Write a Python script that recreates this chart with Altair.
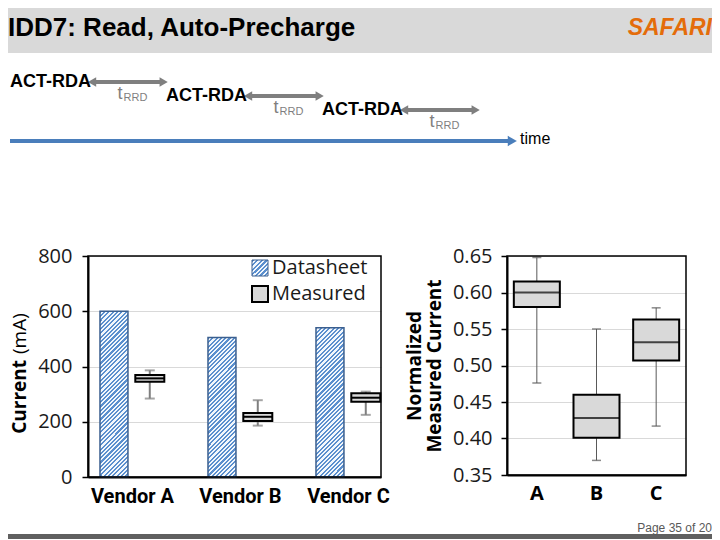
import altair as alt
import pandas as pd

# ---------------- text / header data ----------------
title_text = "IDD7: Read, Auto-Precharge"
logo_text = "SAFARI"
cmd_labels = ["ACT-RDA", "ACT-RDA", "ACT-RDA"]
cmd_slot = [0, 1, 2]
timing_main = ["t", "t", "t"]
timing_sub = ["RRD", "RRD", "RRD"]
time_label = ["time"]
page_label = ["Page 35 of 20"]

# ---------------- left panel data ----------------
vendors = ["Vendor A", "Vendor B", "Vendor C"]
datasheet_ma = [600, 505, 540]
meas_lo = [284, 186, 225]
meas_q1 = [345, 203, 272]
meas_med = [357, 218, 287]
meas_q3 = [369, 232, 303]
meas_hi = [386, 278, 309]
legend_labels = ["Datasheet", "Measured"]
left_title = ["Current", "(mA)"]
left_ticks = [0, 200, 400, 600, 800]

# ---------------- right panel data ----------------
groups = ["A", "B", "C"]
norm_lo = [0.476, 0.370, 0.417]
norm_q1 = [0.580, 0.401, 0.507]
norm_med = [0.600, 0.428, 0.532]
norm_q3 = [0.615, 0.460, 0.563]
norm_hi = [0.648, 0.550, 0.579]
right_ticks = [0.35, 0.40, 0.45, 0.50, 0.55, 0.60, 0.65]

FONT = "Open Sans"
ARIAL = "Liberation Sans"


def hatch(w, h, period=4.3, c1="#5b8fce", c2="#f2f7fc"):
    r = h / w
    k = (1 + r) / (1 + r * r)
    n = max(1, round((w + h) / period))
    stops = []
    for i in range(n):
        a, b, c = i / n, (i + 0.5) / n, (i + 1) / n
        stops += [(a, c1), (b, c1), (b, c2), (c, c2)]
    return alt.LinearGradient(
        gradient="linear",
        stops=[alt.GradientStop(offset=o, color=col) for o, col in stops],
        x1=0, y1=0, x2=k, y2=k * r,
    )


def frame(w, h):
    d = pd.DataFrame({"f": [1]})
    return alt.Chart(d).mark_rect(fillOpacity=0, stroke="black", strokeWidth=1.5).encode(
        x=alt.value(0), x2=alt.value(w), y=alt.value(0), y2=alt.value(h))


# The header / footer views are aligned with the left plot's origin (page x 88),
# so their content starts OFF pixels to the left of their own origin.
OFF = 80
W = 704 - OFF
HH = 238

# ================= header =================
hdr = pd.DataFrame({"label": cmd_labels, "slot": cmd_slot,
                    "t": timing_main, "sub": timing_sub})
one = pd.DataFrame({"title": [title_text], "logo": [logo_text],
                    "time": time_label})

hx = alt.Scale(domain=[0.5, 4.5], nice=False, zero=False)
hy = alt.Scale(domain=[-5.2857, 11.714], nice=False, zero=False, reverse=True)


def HX(f):
    return alt.X(f, scale=hx, axis=None)


def HY(f):
    return alt.Y(f, scale=hy, axis=None)


hbase = alt.Chart(hdr).transform_calculate(
    a0="datum.slot + 0.526", a1="datum.slot + 0.985",
    tx="datum.slot + 0.705", ty="datum.slot + 0.85",
    sx="datum.slot + 0.728", sy="datum.slot + 1.12",
)

bbox_h = alt.Chart(one).mark_rect(opacity=0).encode(
    x=alt.value(-OFF), x2=alt.value(W), y=alt.value(0), y2=alt.value(HH))
bar_h = alt.Chart(one).mark_rect(color="#d9d9d9").encode(
    x=alt.value(-OFF), x2=alt.value(W), y=alt.value(0), y2=alt.value(45))
title_h = alt.Chart(one).mark_text(
    align="left", baseline="alphabetic", font=ARIAL, fontSize=26,
    fontWeight="bold", color="black").encode(
    x=alt.value(-OFF), y=alt.value(28), text="title:N")
logo_h = alt.Chart(one).mark_text(
    align="right", baseline="alphabetic", font=ARIAL, fontSize=23,
    fontWeight="bold", fontStyle="italic", color="#e46c0a").encode(
    x=alt.value(W), y=alt.value(27), text="logo:N")

cmd_txt = hbase.mark_text(align="left", baseline="middle", font=ARIAL,
                          fontSize=18, fontWeight="bold", color="black").encode(
    x=HX("slot:Q"), y=HY("slot:Q"), text="label:N")
arr_line = hbase.mark_rule(color="#7f7f7f", strokeWidth=4).encode(
    x=HX("a0:Q"), x2="a1:Q", y=HY("slot:Q"))
arr_l = hbase.mark_point(shape="triangle-left", filled=True, size=90,
                         color="#7f7f7f", opacity=1).encode(x=HX("a0:Q"), y=HY("slot:Q"))
arr_r = hbase.mark_point(shape="triangle-right", filled=True, size=90,
                         color="#7f7f7f", opacity=1).encode(x=HX("a1:Q"), y=HY("slot:Q"))
t_txt = hbase.mark_text(align="center", baseline="middle", font=ARIAL,
                        fontSize=18, color="#7f7f7f").encode(
    x=HX("tx:Q"), y=HY("ty:Q"), text="t:N")
sub_txt = hbase.mark_text(align="left", baseline="middle", font=ARIAL,
                          fontSize=11, color="#7f7f7f").encode(
    x=HX("sx:Q"), y=HY("sy:Q"), text="sub:N")

tbase = alt.Chart(one).transform_calculate(t0="0", t1="3.22", lvl="4.214", tl="3.27")
time_line = tbase.mark_rule(color="#4a7ebb", strokeWidth=4).encode(
    x=HX("t0:Q"), x2="t1:Q", y=HY("lvl:Q"))
time_head = tbase.mark_point(shape="triangle-right", filled=True, size=110,
                             color="#4a7ebb", opacity=1).encode(
    x=HX("t1:Q"), y=HY("lvl:Q"))
time_txt = tbase.mark_text(align="left", baseline="middle", font=ARIAL,
                           fontSize=16, color="black", dy=-2).encode(
    x=HX("tl:Q"), y=HY("lvl:Q"), text="time:N")

header = alt.layer(bbox_h, bar_h, title_h, logo_h, time_line, time_head, time_txt,
                   arr_line, arr_l, arr_r, cmd_txt, t_txt, sub_txt).properties(
    width=W, height=HH)

# ================= left panel =================
LW, LH = 293, 221
left_df = pd.DataFrame({"vendor": vendors, "idx": [0, 1, 2], "ds": datasheet_ma,
                        "lo": meas_lo, "q1": meas_q1, "med": meas_med,
                        "q3": meas_q3, "hi": meas_hi})
lx = alt.Scale(domain=[-0.407, 2.306], nice=False, zero=False)
ly = alt.Scale(domain=[0, 800], nice=False)
lab_expr = "[" + ",".join("'%s'" % v for v in vendors) + "][datum.value]"
lx_axis = alt.Axis(values=[0, 1, 2], labelExpr=lab_expr, title=None, ticks=False,
                   grid=False, domainColor="black", domainWidth=2,
                   labelFont="Roboto", labelFontWeight="bold", labelFontSize=20,
                   labelColor="black", labelPadding=9)
ly_axis = alt.Axis(values=left_ticks, title=None, grid=True,
                   gridColor="#d9d9d9", gridWidth=1, tickColor="black",
                   tickSize=6, tickWidth=1.5, domainColor="black", domainWidth=2,
                   labelFont=FONT, labelFontSize=20, labelColor="#1a1a1a",
                   labelPadding=10)


def LX(f):
    return alt.X(f, scale=lx, axis=lx_axis)


def LY(f):
    return alt.Y(f, scale=ly, axis=ly_axis)


lbase = alt.Chart(left_df).transform_calculate(
    b0="datum.idx - 0.296", b1="datum.idx - 0.037", c="datum.idx + 0.165",
    m0="datum.idx + 0.031", m1="datum.idx + 0.2995", z="0")

left_layers = []
for i, v in enumerate(vendors):
    h = datasheet_ma[i] / 800 * LH
    left_layers.append(
        lbase.transform_filter(alt.datum.vendor == v)
        .mark_rect(fill=hatch(28, h), stroke="#3b5f8f", strokeWidth=1.5)
        .encode(x=LX("b0:Q"), x2="b1:Q", y=LY("ds:Q"), y2="z:Q"))

left_layers += [
    lbase.mark_rule(color="#7f7f7f", strokeWidth=2).encode(
        x=LX("c:Q"), y=LY("lo:Q"), y2="hi:Q"),
    lbase.mark_tick(orient="horizontal", size=10, thickness=2, color="#7f7f7f").encode(
        x=LX("c:Q"), y=LY("lo:Q")),
    lbase.mark_tick(orient="horizontal", size=10, thickness=2, color="#7f7f7f").encode(
        x=LX("c:Q"), y=LY("hi:Q")),
    lbase.mark_rect(fill="#d9d9d9", stroke="black", strokeWidth=2).encode(
        x=LX("m0:Q"), x2="m1:Q", y=LY("q1:Q"), y2="q3:Q"),
    lbase.mark_rule(color="black", strokeWidth=2).encode(
        x=LX("m0:Q"), x2="m1:Q", y=LY("med:Q")),
]

leg = pd.DataFrame({"label": legend_labels})
ttl = pd.DataFrame({"part": left_title})
left_layers += [
    alt.Chart(leg).transform_filter(alt.datum.label == legend_labels[0])
    .mark_rect(fill=hatch(16, 16), stroke="#3b5f8f", strokeWidth=1).encode(
        x=alt.value(164), x2=alt.value(180), y=alt.value(4), y2=alt.value(20)),
    alt.Chart(leg).transform_filter(alt.datum.label == legend_labels[1])
    .mark_rect(fill="#d9d9d9", stroke="black", strokeWidth=2).encode(
        x=alt.value(164), x2=alt.value(180), y=alt.value(30), y2=alt.value(46)),
    alt.Chart(leg).transform_filter(alt.datum.label == legend_labels[0])
    .mark_text(align="left", baseline="middle", font=FONT, fontSize=20,
               color="#1a1a1a").encode(x=alt.value(184), y=alt.value(12), text="label:N"),
    alt.Chart(leg).transform_filter(alt.datum.label == legend_labels[1])
    .mark_text(align="left", baseline="middle", font=FONT, fontSize=20,
               color="#1a1a1a").encode(x=alt.value(184), y=alt.value(38), text="label:N"),
    # y-axis title: bold "Current", regular "(mA)"
    alt.Chart(ttl).transform_filter(alt.datum.part == left_title[0])
    .mark_text(angle=270, align="right", baseline="middle", font=FONT, fontSize=19,
               fontWeight="bold", color="black").encode(
        x=alt.value(-68), y=alt.value(104), text="part:N"),
    alt.Chart(ttl).transform_filter(alt.datum.part == left_title[1])
    .mark_text(angle=270, align="left", baseline="middle", font=FONT, fontSize=19,
               color="black").encode(
        x=alt.value(-68), y=alt.value(98), text="part:N"),
    frame(LW, LH),
]
left = alt.layer(*left_layers).properties(width=LW, height=LH)

# ================= right panel =================
RW, RH = 179, 219
right_df = pd.DataFrame({"grp": groups, "lo": norm_lo, "q1": norm_q1,
                         "med": norm_med, "q3": norm_q3, "hi": norm_hi})
rx = alt.Scale(domain=groups, paddingInner=0, paddingOuter=0)
ry = alt.Scale(domain=[0.35, 0.65], nice=False, zero=False)
rx_axis = alt.Axis(title=None, ticks=False, labelAngle=0, labelFont=FONT,
                   labelFontWeight="bold", labelFontSize=20, labelColor="black",
                   labelPadding=8, domainColor="black", domainWidth=2, grid=False)
ry_axis = alt.Axis(values=right_ticks, format=".2f",
                   title=["Normalized", "Measured Current"], grid=True,
                   gridColor="#d9d9d9", gridWidth=1, tickColor="black", tickSize=6,
                   tickWidth=1.5, domainColor="black", domainWidth=2,
                   labelFont=FONT, labelFontSize=20, labelColor="#1a1a1a",
                   labelPadding=9, titleFont=FONT, titleFontSize=19,
                   titleFontWeight="bold", titleColor="black", titlePadding=8,
                   titleLineHeight=20)


def RX():
    return alt.X("grp:N", scale=rx, axis=rx_axis)


def RY(f):
    return alt.Y(f, scale=ry, axis=ry_axis)


rbase = alt.Chart(right_df)
right = alt.layer(
    rbase.mark_rule(color="#595959", strokeWidth=1).encode(
        x=RX(), y=RY("lo:Q"), y2="hi:Q"),
    rbase.mark_tick(orient="horizontal", size=9, thickness=1.5, color="#595959").encode(
        x=RX(), y=RY("lo:Q")),
    rbase.mark_tick(orient="horizontal", size=9, thickness=1.5, color="#595959").encode(
        x=RX(), y=RY("hi:Q")),
    rbase.mark_bar(size=46, fill="#d9d9d9", stroke="black", strokeWidth=2).encode(
        x=RX(), y=RY("q1:Q"), y2="q3:Q"),
    rbase.mark_tick(orient="horizontal", size=46, thickness=2, color="black").encode(
        x=RX(), y=RY("med:Q")),
    frame(RW, RH),
).properties(width=RW, height=RH)

# ================= footer =================
FH = 33
fdf = pd.DataFrame({"p": page_label})
footer = alt.layer(
    alt.Chart(fdf).mark_rect(opacity=0).encode(
        x=alt.value(-OFF), x2=alt.value(W), y=alt.value(0), y2=alt.value(FH)),
    alt.Chart(fdf).mark_rect(color="#606060").encode(
        x=alt.value(-OFF), x2=alt.value(W), y=alt.value(28), y2=alt.value(FH)),
    alt.Chart(fdf).mark_text(align="right", baseline="middle", font=ARIAL,
                             fontSize=12, color="#595959").encode(
        x=alt.value(W), y=alt.value(22), text="p:N"),
).properties(width=W, height=FH)

chart = alt.vconcat(
    header,
    alt.hconcat(left, right, spacing=15),
    footer,
    spacing=0,
).properties(padding=0, background="white").configure_view(strokeWidth=0)

chart.save("out.html", embed_options={"renderer": "svg", "actions": False})
